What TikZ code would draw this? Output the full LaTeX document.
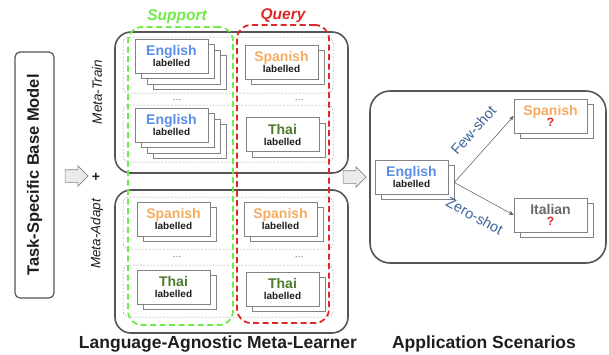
\documentclass[tikz,border=0pt]{standalone}
\usepackage{fontspec}
\setmainfont{Liberation Sans}
\usetikzlibrary{shapes,shapes.arrows,arrows.meta,positioning,shadows}

\definecolor{linegray}{RGB}{85,85,85}
\definecolor{rowgray}{RGB}{165,165,165}
\definecolor{cardgray}{RGB}{130,130,130}
\definecolor{textdark}{RGB}{30,30,30}
\definecolor{engblue}{RGB}{90,142,230}
\definecolor{spaorange}{RGB}{244,172,96}
\definecolor{thaigreen}{RGB}{78,122,46}
\definecolor{italgray}{RGB}{105,105,105}
\definecolor{supgreen}{RGB}{110,235,70}
\definecolor{queryred}{RGB}{222,40,40}
\definecolor{shotblue}{RGB}{60,100,155}
\definecolor{arrowfill}{RGB}{235,235,235}

\newcommand{\cardtext}[3]{{\fontsize{14}{15}\selectfont\bfseries\color{#1}#2}\\[-1pt]{\fontsize{10}{11}\selectfont\bfseries #3}}

\tikzset{
    % big rounded frames
    metabox/.style={
        rectangle, draw=linegray, line width=1.6pt,
        rounded corners=16pt, minimum width=233pt
    },
    rowbox/.style={
        rectangle, draw=rowgray, dash pattern=on 2pt off 1.5pt,
        line width=0.5pt, rounded corners=6pt, minimum width=210pt
    },
    colbox/.style={
        rectangle, dash pattern=on 6pt off 3.5pt, line width=1.8pt,
        rounded corners=14pt
    },
    % stacked data cards
    card/.style={
        rectangle, draw=cardgray, line width=0.6pt, fill=white,
        minimum width=73pt, minimum height=34pt, inner sep=0pt,
        align=center, text=textdark,
        drop shadow={shadow xshift=0.8pt, shadow yshift=-0.8pt, opacity=.25}
    },
    blockarrow/.style={
        single arrow, draw=cardgray, fill=arrowfill, line width=0.6pt,
        minimum height=23pt, minimum width=20pt, inner sep=6pt,
        single arrow head extend=4pt
    },
    shotarrow/.style={
        -{Stealth[length=5pt,width=4pt]}, draw=linegray, line width=0.5pt
    },
    shotlabel/.style={
        text=shotblue, font=\fontsize{14.5}{15}\selectfont, inner sep=0pt
    },
    sidelabel/.style={
        rotate=90, text=textdark, font=\fontsize{13.5}{14}\selectfont\itshape
    },
    title/.style={
        text=textdark, font=\fontsize{17.5}{18}\selectfont\bfseries
    },
    dots/.style={text=linegray, font=\fontsize{9}{10}\selectfont}
}

\begin{document}
\begin{tikzpicture}[x=1pt, y=-1pt]
\useasboundingbox (0,0) rectangle (609,354);

% base model and first arrow
\node[rectangle, draw=linegray, line width=1.2pt, rounded corners=5pt,
      minimum width=246pt, minimum height=39pt, rotate=90,
      font=\fontsize{16.5}{17}\selectfont\bfseries, text=textdark]
      (base) at (34.5,175) {Task-Specific Base Model};
\node[blockarrow] (arr1) at (73.5,176) {};
\node[font=\fontsize{14}{14}\selectfont\bfseries, text=textdark] (plus) at (96,177) {+};
\node[sidelabel] (train-lbl) at (97,92) {Meta-Train};
\node[sidelabel] (adapt-lbl) at (97,234) {Meta-Adapt};

% meta-learner frames
\node[metabox, minimum height=141pt] (train) at (231.5,102.5) {};
\node[metabox, minimum height=143pt] (adapt) at (231.5,261.5) {};
\node[rowbox, minimum height=56pt] (row1) at (228,65) {};
\node[rowbox, minimum height=57pt] (row2) at (228,133.5) {};
\node[rowbox, minimum height=52pt] (row3) at (228,223) {};
\node[rowbox, minimum height=52pt] (row4) at (228,291) {};
\node[dots] (d1) at (177,100) {\dots};
\node[dots] (d2) at (299,100) {\dots};
\node[dots] (d3) at (177,257) {\dots};
\node[dots] (d4) at (299,257) {\dots};

% support / query columns
\node[colbox, draw=supgreen, minimum width=105pt, minimum height=298pt] (support) at (180.5,176) {};
\node[colbox, draw=queryred, minimum width=92pt, minimum height=298pt] (query) at (283,174) {};
\node[font=\fontsize{15.5}{16}\selectfont\bfseries\itshape, text=supgreen] (sup-lbl) at (177,17) {Support};
\node[font=\fontsize{15.5}{16}\selectfont\bfseries\itshape, text=queryred] (qry-lbl) at (283,16) {Query};

% support cards, meta-train
\foreach \k in {3,2,1}
    \node[card] (st1-\k) at ({171.5+6*\k},{56+5.5*\k}) {};
\node[card] (st1) at (171.5,56) {\cardtext{engblue}{English}{labelled}};
\foreach \k in {3,2,1}
    \node[card] (st2-\k) at ({171.5+6*\k},{125+5.5*\k}) {};
\node[card] (st2) at (171.5,125) {\cardtext{engblue}{English}{labelled}};

% query cards, meta-train
\node[card] (qt1-1) at (287.5,67.5) {};
\node[card] (qt1) at (281.5,62) {\cardtext{spaorange}{Spanish}{labelled}};
\node[card] (qt2-1) at (288.5,140) {};
\node[card] (qt2) at (282.5,134.5) {\cardtext{thaigreen}{Thai}{labelled}};

% support cards, meta-adapt
\node[card] (sa1-1) at (179.5,224.5) {};
\node[card] (sa1) at (173.5,219) {\cardtext{spaorange}{Spanish}{labelled}};
\node[card] (sa2-1) at (179.5,292.5) {};
\node[card] (sa2) at (173.5,287) {\cardtext{thaigreen}{Thai}{labelled}};

% query cards, meta-adapt
\node[card] (qa1-1) at (286.5,224.5) {};
\node[card] (qa1) at (280.5,219) {\cardtext{spaorange}{Spanish}{labelled}};
\node[card] (qa2-1) at (288.5,294.5) {};
\node[card] (qa2) at (282.5,289) {\cardtext{thaigreen}{Thai}{labelled}};

% application scenarios
\node[blockarrow] (arr2) at (351.5,177) {};
\node[metabox, rounded corners=20pt, minimum width=236pt, minimum height=172pt] (app) at (488,177) {};
\node[card] (eng-1) at (417.5,182.5) {};
\node[card] (eng) at (411.5,177) {\cardtext{engblue}{English}{labelled}};
\node[card] (spa-1) at (556.5,121.5) {};
\node[card] (spa) at (550.5,116) {\cardtext{spaorange}{Spanish}{\fontsize{12}{12}\selectfont\color{queryred}?}};
\node[card] (ita-1) at (556.5,220.5) {};
\node[card] (ita) at (550.5,215) {\cardtext{italgray}{Italian}{\fontsize{12}{12}\selectfont\color{queryred}?}};

\draw[shotarrow] (eng-1.east) -- node[shotlabel, sloped, above=15pt, pos=0.58] (few) {Few-shot} (spa.west);
\draw[shotarrow] (eng-1.east) -- node[shotlabel, sloped, below=14pt, pos=0.5] (zero) {Zero-shot} (ita.west);

% captions
\node[title] (learner) at (218,344) {Language-Agnostic Meta-Learner};
\node[title] (scen) at (484,344) {Application Scenarios};

\end{tikzpicture}
\end{document}
